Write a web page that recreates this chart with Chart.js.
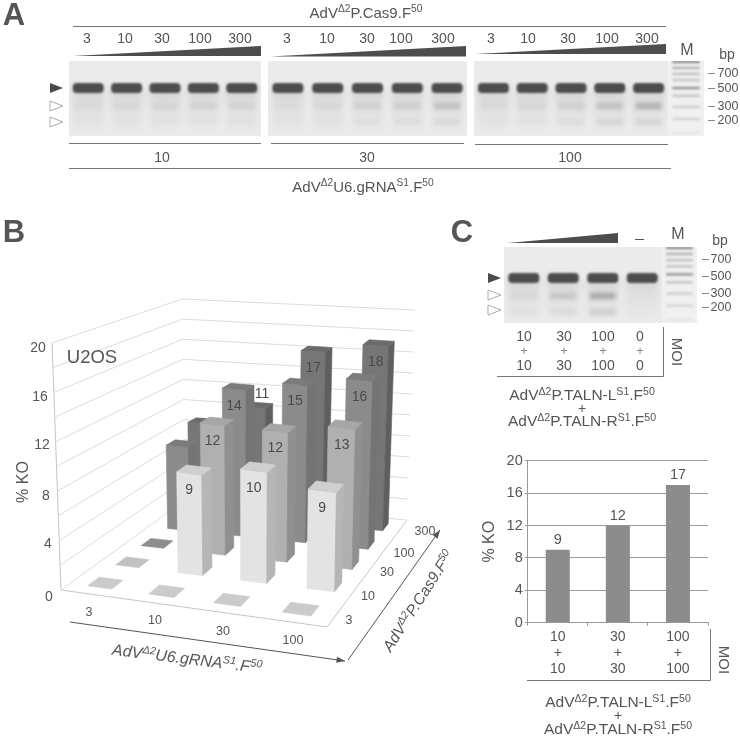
<!DOCTYPE html>
<html>
<head>
<meta charset="utf-8">
<script src="https://cdn.jsdelivr.net/npm/chart.js@4"></script>
<style>
  html, body { margin: 0; padding: 0; background: #fff; }
  #page { position: relative; width: 740px; height: 738px; overflow: hidden; font-family: "Liberation Sans", Arial, sans-serif; color: #555; }
  #page canvas { position: absolute; }
  #page svg { position: absolute; left: 0; top: 0; }
  .t { position: absolute; white-space: nowrap; line-height: 1; transform: translate(-50%, -50%); }
  .t sup { font-size: 0.68em; line-height: 0; vertical-align: 0.5em; }
</style>
</head>
<body>
<div id="page"><svg id="decor" width="740" height="738"></svg></div>
<script>
// panel B values, % KO per AdV.gRNA MOI, one list per AdV.Cas9 MOI
const gRnaMoi = ["3", "10", "30", "100"];
const cas9Moi = ["3", "10", "30", "100", "300"];
const koCas3 = [0, 0, 0, 0];
const koCas10 = [0, 9, 10, 9];
const koCas30 = [0, 12, 12, 13];
const koCas100 = [8, 14, 15, 16];
const koCas300 = [9, 11, 17, 18];
const koByCas = [koCas3, koCas10, koCas30, koCas100, koCas300];
const frontShade = ["#cbcbcb", "#e3e3e3", "#b0b0b0", "#8b8b8b", "#767676"];
const sideShade = ["#cbcbcb", "#b6b6b6", "#909090", "#747474", "#5f5f5f"];
const topShade = ["#cbcbcb", "#cfcfcf", "#a6a6a6", "#7b7b7b", "#6b6b6b"];
const floorShade = ["#cbcbcb", "#c2c2c2", "#8e8e8e", "#7b7b7b", "#6b6b6b"];

// panel C bar chart
const talenMoi = [["10", "+", "10"], ["30", "+", "30"], ["100", "+", "100"]];
const talenKo = [9, 12, 17];
const koTicks = [0, 4, 8, 12, 16, 20];

// gels: intensity of the two cut bands per lane
const laneCut300A = [0.03, 0.04, 0.05, 0.06, 0.06];
const laneCut200A = [0.01, 0.015, 0.02, 0.02, 0.025];
const laneCut300B = [0.025, 0.04, 0.08, 0.09, 0.15];
const laneCut200B = [0.012, 0.015, 0.03, 0.04, 0.06];
const laneCut300C = [0.03, 0.045, 0.08, 0.15, 0.22];
const laneCut200C = [0.015, 0.025, 0.04, 0.07, 0.08];
const laneCut300T = [0.04, 0.12, 0.26, 0];
const laneCut200T = [0.025, 0.05, 0.11, 0];
const markerBp = [1050, 885, 745, 627, 500, 400, 292, 208, 140];
const markerAlpha = [0.45, 0.25, 0.2, 0.18, 0.38, 0.18, 0.14, 0.12, 0.04];

const page = document.getElementById("page");
const decor = document.getElementById("decor");
const INK = "#555";

function text(x, y, html, size, extra) {
  const el = document.createElement("div");
  el.className = "t";
  el.innerHTML = html;
  el.style.left = x + "px";
  el.style.top = y + "px";
  el.style.fontSize = (size || 13) + "px";
  if (extra) {
    Object.assign(el.style, extra);
  }
  page.appendChild(el);
}

function svg(tag, attrs) {
  const el = document.createElementNS("http://www.w3.org/2000/svg", tag);
  Object.keys(attrs).forEach((key) => el.setAttribute(key, attrs[key]));
  decor.appendChild(el);
}

function rule(x1, y1, x2, y2, color) {
  svg("line", { x1, y1, x2, y2, stroke: color || "#777", "stroke-width": 1 });
}

function wedge(x1, yBase, x2, yTop) {
  svg("polygon", { points: `${x1},${yBase} ${x2},${yTop} ${x2},${yBase}`, fill: "#4d4d4d" });
}

function pointer(x, y, filled) {
  const pts = `${x},${y - 5} ${x + 13},${y} ${x},${y + 5}`;
  svg("polygon", filled ? { points: pts, fill: "#4a4a4a" } : { points: pts, fill: "#fff", stroke: "#aaa", "stroke-width": 1 });
}

function arrow(x1, y1, x2, y2) {
  rule(x1, y1, x2, y2, "#555");
  const angle = Math.atan2(y2 - y1, x2 - x1);
  const head = (a) => `${x2 - 9 * Math.cos(angle + a)},${y2 - 9 * Math.sin(angle + a)}`;
  svg("polygon", { points: `${x2},${y2} ${head(0.35)} ${head(-0.35)}`, fill: "#555" });
}

function makeCanvas(left, top, width, height) {
  const canvas = document.createElement("canvas");
  canvas.width = width;
  canvas.height = height;
  canvas.style.left = left + "px";
  canvas.style.top = top + "px";
  canvas.style.width = width + "px";
  canvas.style.height = height + "px";
  page.insertBefore(canvas, decor);
  return canvas;
}

// ---------- gels ----------
const gelPlugin = {
  id: "gel",
  beforeDatasetsDraw(chart, args, opts) {
    const { ctx, chartArea: area, scales } = chart;
    ctx.save();
    ctx.fillStyle = opts.background || "#ebebeb";
    ctx.fillRect(area.left, area.top, area.width, area.height);
    ctx.beginPath();
    ctx.rect(area.left, area.top, area.width, area.height);
    ctx.clip();
    const laneWidth = scales.x.getPixelForValue(1) - scales.x.getPixelForValue(0);
    const y500 = scales.y.getPixelForValue(500);
    (opts.cut300 || []).forEach((alpha, lane) => {
      const cx = scales.x.getPixelForValue(lane);
      const half = 16;
      // smear under the main band
      const smear = ctx.createLinearGradient(0, y500, 0, area.bottom);
      smear.addColorStop(0, "rgba(0,0,0,0.10)");
      smear.addColorStop(0.35, "rgba(0,0,0,0.05)");
      smear.addColorStop(1, "rgba(0,0,0,0.0)");
      ctx.filter = "blur(3px)";
      ctx.fillStyle = smear;
      ctx.fillRect(cx - half, y500, half * 2, area.bottom - y500 - 4);
      ctx.filter = "blur(2px)";
      ctx.fillStyle = `rgba(0,0,0,${alpha})`;
      ctx.fillRect(cx - half + 3, scales.y.getPixelForValue(300) - 3, half * 2 - 6, 6);
      ctx.fillStyle = `rgba(0,0,0,${opts.cut200[lane]})`;
      ctx.fillRect(cx - half + 3, scales.y.getPixelForValue(190) - 3, half * 2 - 6, 6);
      ctx.filter = "blur(0.8px)";
      ctx.fillStyle = "#4d4d4d";
      ctx.beginPath();
      ctx.roundRect(cx - half + 0.5, y500 - 5, half * 2 - 1, 10, 4);
      ctx.fill();
    });
    (opts.markerBp || []).forEach((bp, index) => {
      ctx.filter = "blur(0.9px)";
      ctx.fillStyle = `rgba(0,0,0,${opts.markerAlpha[index]})`;
      ctx.fillRect(scales.x.getPixelForValue(-0.38), scales.y.getPixelForValue(bp) - 1.2, laneWidth * 0.76, 2.4);
    });
    ctx.restore();
  },
};

function gelChart(left, top, width, height, laneCount, options, bpRange) {
  const canvas = makeCanvas(left, top, width, height);
  const range = bpRange || [128, 1077];
  return new Chart(canvas, {
    type: "scatter",
    data: { datasets: [{ data: [], pointRadius: 0 }] },
    plugins: [gelPlugin],
    options: {
      responsive: false,
      animation: false,
      layout: { padding: 0 },
      plugins: { legend: { display: false }, tooltip: { enabled: false }, gel: options },
      scales: {
        x: { type: "linear", display: false, min: -0.5, max: laneCount - 0.5 },
        y: { type: "logarithmic", display: false, min: range[0], max: range[1] },
      },
    },
  });
}

gelChart(69, 61, 192, 75, 5, { cut300: laneCut300A, cut200: laneCut200A });
gelChart(268, 61, 199, 75, 5, { cut300: laneCut300B, cut200: laneCut200B });
gelChart(474, 61, 194, 75, 5, { cut300: laneCut300C, cut200: laneCut200C });
gelChart(668, 61, 36, 75, 1, { markerBp, markerAlpha, background: "#f0f0f0" });
gelChart(504, 247, 158, 76, 4, { cut300: laneCut300T, cut200: laneCut200T }, [139, 1208]);
gelChart(662, 247, 35, 76, 1, { markerBp, markerAlpha, background: "#f0f0f0" });

// ---------- panel B, 3D bars ----------
// floor quad corners and wall heights, u = gRNA axis, v = Cas9 axis
const floorFL = [61, 590], floorFR = [327, 627], floorBR = [407, 520], floorBL = [185, 500];
const wallFL = 247, wallFR = 236, wallBR = 210, wallBL = 201;
const leanX = 244, leanRate = 0.049;
const barHeightRatio = 0.96;
const barShiftU = 0.014;

function floorMatrix() {
  const [x0, y0] = floorFL, [x1, y1] = floorFR, [x2, y2] = floorBR, [x3, y3] = floorBL;
  const dx1 = x1 - x2, dx2 = x3 - x2, sx = x0 - x1 + x2 - x3;
  const dy1 = y1 - y2, dy2 = y3 - y2, sy = y0 - y1 + y2 - y3;
  const det = dx1 * dy2 - dx2 * dy1;
  const g = (sx * dy2 - dx2 * sy) / det;
  const h = (dx1 * sy - sx * dy1) / det;
  return { a: x1 - x0 + g * x1, b: x3 - x0 + h * x3, c: x0, d: y1 - y0 + g * y1, e: y3 - y0 + h * y3, f: y0, g, h };
}
const fm = floorMatrix();

function project(u, v, value) {
  const w = fm.g * u + fm.h * v + 1;
  const fx = (fm.a * u + fm.b * v + fm.c) / w;
  const fy = (fm.d * u + fm.e * v + fm.f) / w;
  const wall = wallFL * (1 - u) * (1 - v) + wallFR * u * (1 - v) + wallBR * u * v + wallBL * (1 - u) * v;
  const z = value / 20;
  return { x: fx + (fx - leanX) * leanRate * z, y: fy - wall * z };
}

const gridValues = [0, 2, 4, 6, 8, 10, 12, 14, 16, 18, 20];
const barsDatasets = [];

gridValues.forEach((value) => {
  barsDatasets.push({
    data: [project(0, 0, value), project(0, 1, value), project(1, 1, value)],
    showLine: true, borderColor: "#dcdcdc", borderWidth: 1, pointRadius: 0, fill: false,
  });
});
[[[0, 0, 0], [0, 0, 20]], [[0, 0, 0], [1, 0, 0]], [[1, 0, 0], [1, 1, 0]]].forEach((edge) => {
  barsDatasets.push({
    data: edge.map((p) => project(p[0], p[1], p[2])),
    showLine: true, borderColor: "#c4c4c4", borderWidth: 1, pointRadius: 0, fill: false,
  });
});

function face(points, color) {
  barsDatasets.push({ data: points, polygon: true, polyColor: color, showLine: false, pointRadius: 0 });
}

const barLabels = [];
for (let row = koByCas.length - 1; row >= 0; row--) {
  koByCas[row].forEach((value, col) => {
    const uc = (col + 0.5) / gRnaMoi.length + (value ? barShiftU : 0), vc = (row + 0.5) / cas9Moi.length;
    const u0 = uc - 0.05, u1 = uc + 0.05, v0 = vc - 0.04, v1 = vc + 0.04;
    if (value === 0) {
      face([project(u0, v0, 0), project(u1, v0, 0), project(u1, v1, 0), project(u0, v1, 0)], floorShade[row]);
      return;
    }
    const h = value * barHeightRatio;
    face([project(u0, v0, 0), project(u1, v0, 0), project(u1, v0, h), project(u0, v0, h)], frontShade[row]);
    face([project(u1, v0, 0), project(u1, v1, 0), project(u1, v1, h), project(u1, v0, h)], sideShade[row]);
    face([project(u0, v0, h), project(u1, v0, h), project(u1, v1, h), project(u0, v1, h)], topShade[row]);
    if (col > 0) {
      const behind = row === 4 && col === 1;
      barLabels.push({ at: project(uc, v0, h), value, dx: behind ? 8 : 0, dy: behind ? -13 : 17 });
    }
  });
}

const polygonPlugin = {
  id: "polygons",
  afterDatasetsDraw(chart) {
    const { ctx } = chart;
    ctx.save();
    chart.data.datasets.forEach((dataset, index) => {
      if (!dataset.polygon) {
        return;
      }
      const pts = chart.getDatasetMeta(index).data;
      ctx.beginPath();
      pts.forEach((pt, i) => (i ? ctx.lineTo(pt.x, pt.y) : ctx.moveTo(pt.x, pt.y)));
      ctx.closePath();
      ctx.fillStyle = dataset.polyColor;
      ctx.strokeStyle = dataset.polyColor;
      ctx.lineWidth = 0.6;
      ctx.fill();
      ctx.stroke();
    });
    ctx.fillStyle = "#4a4a4a";
    ctx.font = '14px "Liberation Sans", Arial, sans-serif';
    ctx.textAlign = "center";
    ctx.textBaseline = "middle";
    barLabels.forEach((label) => {
      ctx.fillText(label.value, chart.scales.x.getPixelForValue(label.at.x) + label.dx, chart.scales.y.getPixelForValue(label.at.y) + label.dy);
    });
    ctx.restore();
  },
};

new Chart(makeCanvas(0, 280, 470, 410), {
  type: "scatter",
  data: { datasets: barsDatasets },
  plugins: [polygonPlugin],
  options: {
    responsive: false,
    animation: false,
    layout: { padding: 0 },
    plugins: { legend: { display: false }, tooltip: { enabled: false } },
    scales: {
      x: { type: "linear", display: false, min: 0, max: 470 },
      y: { type: "linear", display: false, min: 280, max: 690, reverse: true },
    },
  },
});

// ---------- panel C, bar chart ----------
const talenLabelPlugin = {
  id: "talenLabels",
  afterDatasetsDraw(chart) {
    const { ctx } = chart;
    ctx.save();
    ctx.fillStyle = INK;
    ctx.font = '14.5px "Liberation Sans", Arial, sans-serif';
    ctx.textAlign = "center";
    chart.getDatasetMeta(0).data.forEach((bar, index) => {
      ctx.fillText(talenKo[index], bar.x, bar.y - 6);
    });
    ctx.restore();
  },
};

new Chart(makeCanvas(460, 440, 250, 250), {
  type: "bar",
  data: {
    labels: talenMoi,
    datasets: [{ data: talenKo, backgroundColor: "#8c8c8c", barPercentage: 0.4, categoryPercentage: 1 }],
  },
  plugins: [talenLabelPlugin],
  options: {
    responsive: false,
    animation: false,
    layout: { padding: { top: 20.7, right: 2, left: 20 } },
    plugins: { legend: { display: false }, tooltip: { enabled: false } },
    scales: {
      x: {
        afterFit: (scale) => { scale.height = 67.3; },
        grid: { drawOnChartArea: false, tickLength: 3, color: "#999" },
        border: { color: "#999" },
        ticks: { color: INK, font: { size: 14, family: "Liberation Sans", lineHeight: 1.12 }, padding: 4, maxRotation: 0 },
      },
      y: {
        min: 0,
        max: 20,
        afterBuildTicks: (scale) => { scale.ticks = koTicks.map((value) => ({ value })); },
        afterFit: (scale) => { scale.width = 47.7; },
        grid: { color: "#9a9a9a", tickLength: 3 },
        border: { color: "#9a9a9a" },
        title: { display: true, text: "% KO", color: INK, font: { size: 16, family: "Liberation Sans" }, padding: 0 },
        ticks: { color: INK, font: { size: 14.5, family: "Liberation Sans" }, padding: 2 },
      },
    },
  },
});

// ---------- text and rules ----------
const big = { fontWeight: "bold", color: "#555" };
text(14, 14, "A", 31, big);
text(14, 231, "B", 31, big);
text(462, 231, "C", 31, big);

const delta = "<sup>Δ2</sup>";
const f50 = ".F<sup>50</sup>";

// panel A
text(366, 12, `AdV${delta}P.Cas9${f50}`, 15);
rule(73, 26.5, 666, 26.5);
const laneX = [[87, 125, 162, 200, 240], [287, 327, 367, 401, 443], [491, 528, 568, 607, 647]];
laneX.forEach((row) => row.forEach((x, i) => text(x, 38, cas9Moi[i], 14)));
wedge(73, 56, 261, 46);
wedge(270, 56.5, 466, 46);
wedge(475, 54, 666, 44);
pointer(50, 88, true);
pointer(50, 106, false);
pointer(50, 122, false);
rule(69, 143.5, 261, 143.5);
rule(271, 143.5, 464, 143.5);
rule(475, 144.5, 668, 144.5);
rule(69, 168.5, 671, 168.5);
text(162, 157, "10", 14);
text(367, 157, "30", 14);
text(570, 157, "100", 14);
text(363, 186, `AdV${delta}U6.gRNA<sup>S1</sup>${f50}`, 15);
text(687, 50, "M", 16);
text(727, 54, "bp", 14);
[["700", 73], ["500", 88], ["300", 106], ["200", 120]].forEach(([label, y]) => {
  rule(708, y + 0.5, 715, y + 0.5, "#888");
  text(728, y, label, 12.5);
});

// panel C gel
wedge(507, 243, 618, 233);
rule(635, 239.5, 644, 239.5, "#555");
text(678, 234, "M", 16);
text(720, 240, "bp", 14);
[["700", 259], ["500", 276], ["300", 293], ["200", 307]].forEach(([label, y]) => {
  rule(702, y + 0.5, 709, y + 0.5, "#888");
  text(721, y, label, 12.5);
});
pointer(488, 278, true);
pointer(488, 295, false);
pointer(488, 310, false);
[[524, "10"], [564, "30"], [603, "100"], [640, "0"]].forEach(([x, label]) => {
  text(x, 336, label, 14);
  text(x, 350, "+", 13, { color: "#888" });
  text(x, 365, label, 14);
});
rule(663.5, 327, 663.5, 376.5);
rule(497, 376.5, 663.5, 376.5);
text(677, 352, "MOI", 15, { transform: "translate(-50%,-50%) rotate(90deg)" });
text(582, 395, `AdV${delta}P.TALN-L<sup>S1</sup>${f50}`, 15.5);
text(582, 408, "+", 14);
text(582, 421, `AdV${delta}P.TALN-R<sup>S1</sup>${f50}`, 15.5);

// panel C chart
rule(710.5, 629, 710.5, 680.5);
rule(527, 680.5, 710.5, 680.5);
text(724, 660, "MOI", 15, { transform: "translate(-50%,-50%) rotate(90deg)" });
text(618, 702, `AdV${delta}P.TALN-L<sup>S1</sup>${f50}`, 15.5);
text(618, 715, "+", 14);
text(618, 729, `AdV${delta}P.TALN-R<sup>S1</sup>${f50}`, 15.5);

// panel B text
[["0", 49, 596], ["4", 48, 543], ["8", 46, 495], ["12", 42, 444], ["16", 40, 396], ["20", 38, 347]].forEach(([label, x, y]) => text(x, y, label, 14));
text(92, 357, "U2OS", 18.5);
text(23, 482, "% KO", 16, { transform: "translate(-50%,-50%) rotate(-90deg)" });
[[89, 612], [155, 620], [223, 631], [293, 640]].forEach(([x, y], i) => text(x, y, gRnaMoi[i], 12.5));
[[349, 620], [368, 596], [387, 572], [404, 553], [425, 531]].forEach(([x, y], i) => text(x, y, cas9Moi[i], 12.5));
arrow(70, 622, 345, 661);
arrow(348, 660, 440, 530);
text(187, 659, `AdV${delta}U6.gRNA<sup>S1</sup>${f50}`, 16, { fontStyle: "italic", transform: "translate(-50%,-50%) rotate(7deg)" });
text(418, 601, `AdV${delta}P.Cas9${f50}`, 15.5, { fontStyle: "italic", transform: "translate(-50%,-50%) rotate(-57deg)" });
</script>
</body>
</html>
